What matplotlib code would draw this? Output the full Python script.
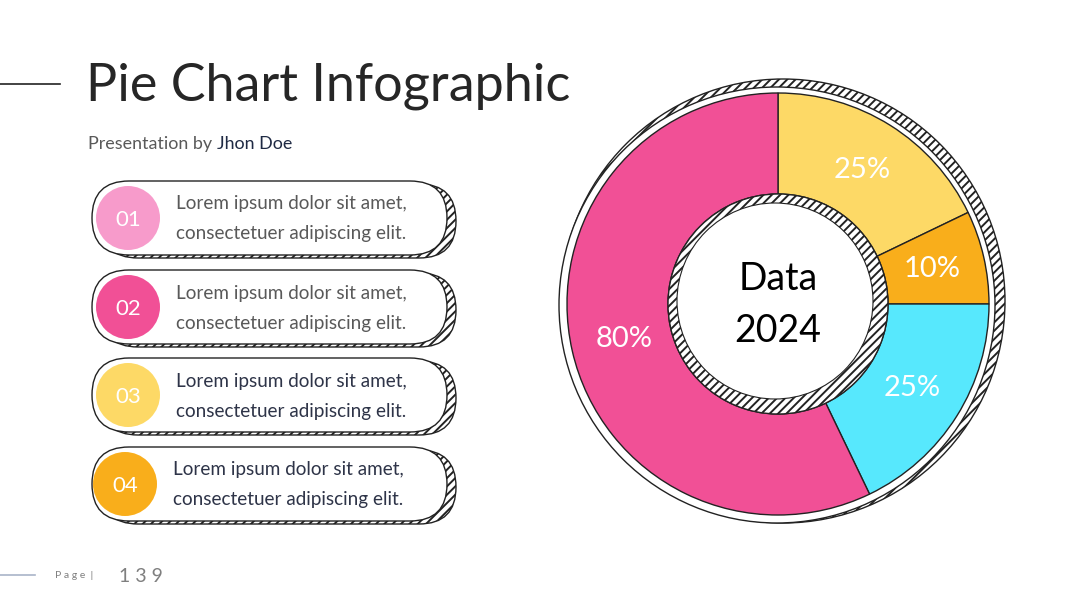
import matplotlib
matplotlib.use("Agg")
import matplotlib.pyplot as plt
from matplotlib.patches import FancyBboxPatch, Circle

# ---- data ----
slice_labels = ["25%", "10%", "25%", "80%"]
slice_values = [25, 10, 25, 80]
slice_colors = ["#FDD966", "#F9AE1B", "#57E8FD", "#F15096"]

item_numbers = ["01", "02", "03", "04"]
item_colors = ["#F79BCB", "#F15096", "#FDD966", "#F9AE1B"]
item_text_colors = ["#595959", "#595959", "#2E3448", "#2E3448"]
item_line1 = ["Lorem ipsum dolor sit amet,"] * 4
item_line2 = ["consectetuer adipiscing elit."] * 4

title = "Pie Chart Infographic"
subtitle_a = "Presentation by "
subtitle_b = "Jhon Doe"
page_no = "139"

W, H = 1080, 608
plt.rcParams['font.family'] = ['Lato', 'DejaVu Sans']
plt.rcParams['hatch.linewidth'] = 1.4

fig = plt.figure(figsize=(W / 100, H / 100), dpi=100)
ax = fig.add_axes([0, 0, 1, 1])

def Y(y):
    return H - y

# ---- donut ----
cx, cy = 778, Y(304)
R = 211
rin = 110

wedges, texts, autotexts = ax.pie(
    slice_values, colors=slice_colors, startangle=90, counterclock=False,
    center=(cx, cy), radius=R, autopct='%d', pctdistance=0.75,
    wedgeprops=dict(width=R - rin, edgecolor='#222222', linewidth=1.0, zorder=2),
    textprops=dict(color='white', fontsize=21, zorder=5), frame=True)
for t, lab in zip(autotexts, slice_labels):
    t.set_text(lab)

ax.set_xlim(0, W)
ax.set_ylim(0, H)
ax.set_aspect('equal')
ax.axis('off')

ax.add_patch(Circle((cx + 5, cy + 3), 222, facecolor='white', edgecolor='#222222',
                    lw=1.0, hatch='////', zorder=1))
ax.add_patch(Circle((cx - 1, cy - 1), 218, facecolor='white', edgecolor='#222222',
                    lw=1.0, zorder=1.5))
ax.add_patch(Circle((cx, cy), rin, facecolor='white', edgecolor='#222222',
                    lw=1.0, hatch='////', zorder=3))
ax.add_patch(Circle((cx - 3, cy + 3), 98, facecolor='white', edgecolor='#222222',
                    lw=0.8, zorder=3.5))
ax.text(cx, cy + 25, "Data", fontsize=27, color='black', ha='center', va='center', zorder=4)
ax.text(cx, cy - 27, "2024", fontsize=27, color='black', ha='center', va='center', zorder=4)

# ---- title area ----
ax.plot([0, 60], [Y(84), Y(84)], color="#222222", lw=1.2)
ax.text(86, Y(86), title, fontsize=37.5, color="#262626", va='center', ha='left')
t1 = ax.text(88, Y(144), subtitle_a, fontsize=12.9, color="#595959", va='center', ha='left')
fig.canvas.draw()
bb = t1.get_window_extent()
ax.annotate(subtitle_b, xy=(bb.x1, Y(144)), xycoords=('figure pixels', 'data'),
            fontsize=12.9, color="#1F2A44", va='center', ha='left')

# ---- list items ----
pill_tops = [181, 270, 358, 447]
pill_h = 74
for i in range(4):
    top = pill_tops[i]
    x0, x1 = 92, 447
    back = FancyBboxPatch((x0 + 9, Y(top + pill_h + 3)), x1 - x0, pill_h,
                          boxstyle=f"round,pad=0,rounding_size={pill_h/2}",
                          facecolor='white', edgecolor='#222222', lw=1.0, hatch='////', zorder=2)
    ax.add_patch(back)
    front = FancyBboxPatch((x0, Y(top + pill_h)), x1 - x0, pill_h,
                           boxstyle=f"round,pad=0,rounding_size={pill_h/2}",
                           facecolor='white', edgecolor='#222222', lw=1.0, zorder=3)
    ax.add_patch(front)
    ccy = top + pill_h / 2
    ccx = 128 if i < 3 else 125
    ax.add_patch(Circle((ccx, Y(ccy)), 32, facecolor=item_colors[i], edgecolor='none', zorder=4))
    ax.text(ccx, Y(ccy + 2), item_numbers[i], fontsize=16, color='white', ha='center',
            va='center', zorder=5)
    tx = 176 if i < 3 else 173
    ax.text(tx, Y(ccy - 14), item_line1[i], fontsize=13.6, color=item_text_colors[i],
            ha='left', va='center', zorder=5)
    ax.text(tx, Y(ccy + 16), item_line2[i], fontsize=13.6, color=item_text_colors[i],
            ha='left', va='center', zorder=5)

# ---- footer ----
ax.plot([0, 35], [Y(575), Y(575)], color="#A9B4C8", lw=1.2)
ax.text(55, Y(576), "P a g e  |", fontsize=7.5, color="#7F7F7F", ha='left', va='center')
ax.text(119, Y(576), " ".join(page_no), fontsize=14, color="#7F7F7F", ha='left', va='center')

fig.savefig("out.png", dpi=100)
